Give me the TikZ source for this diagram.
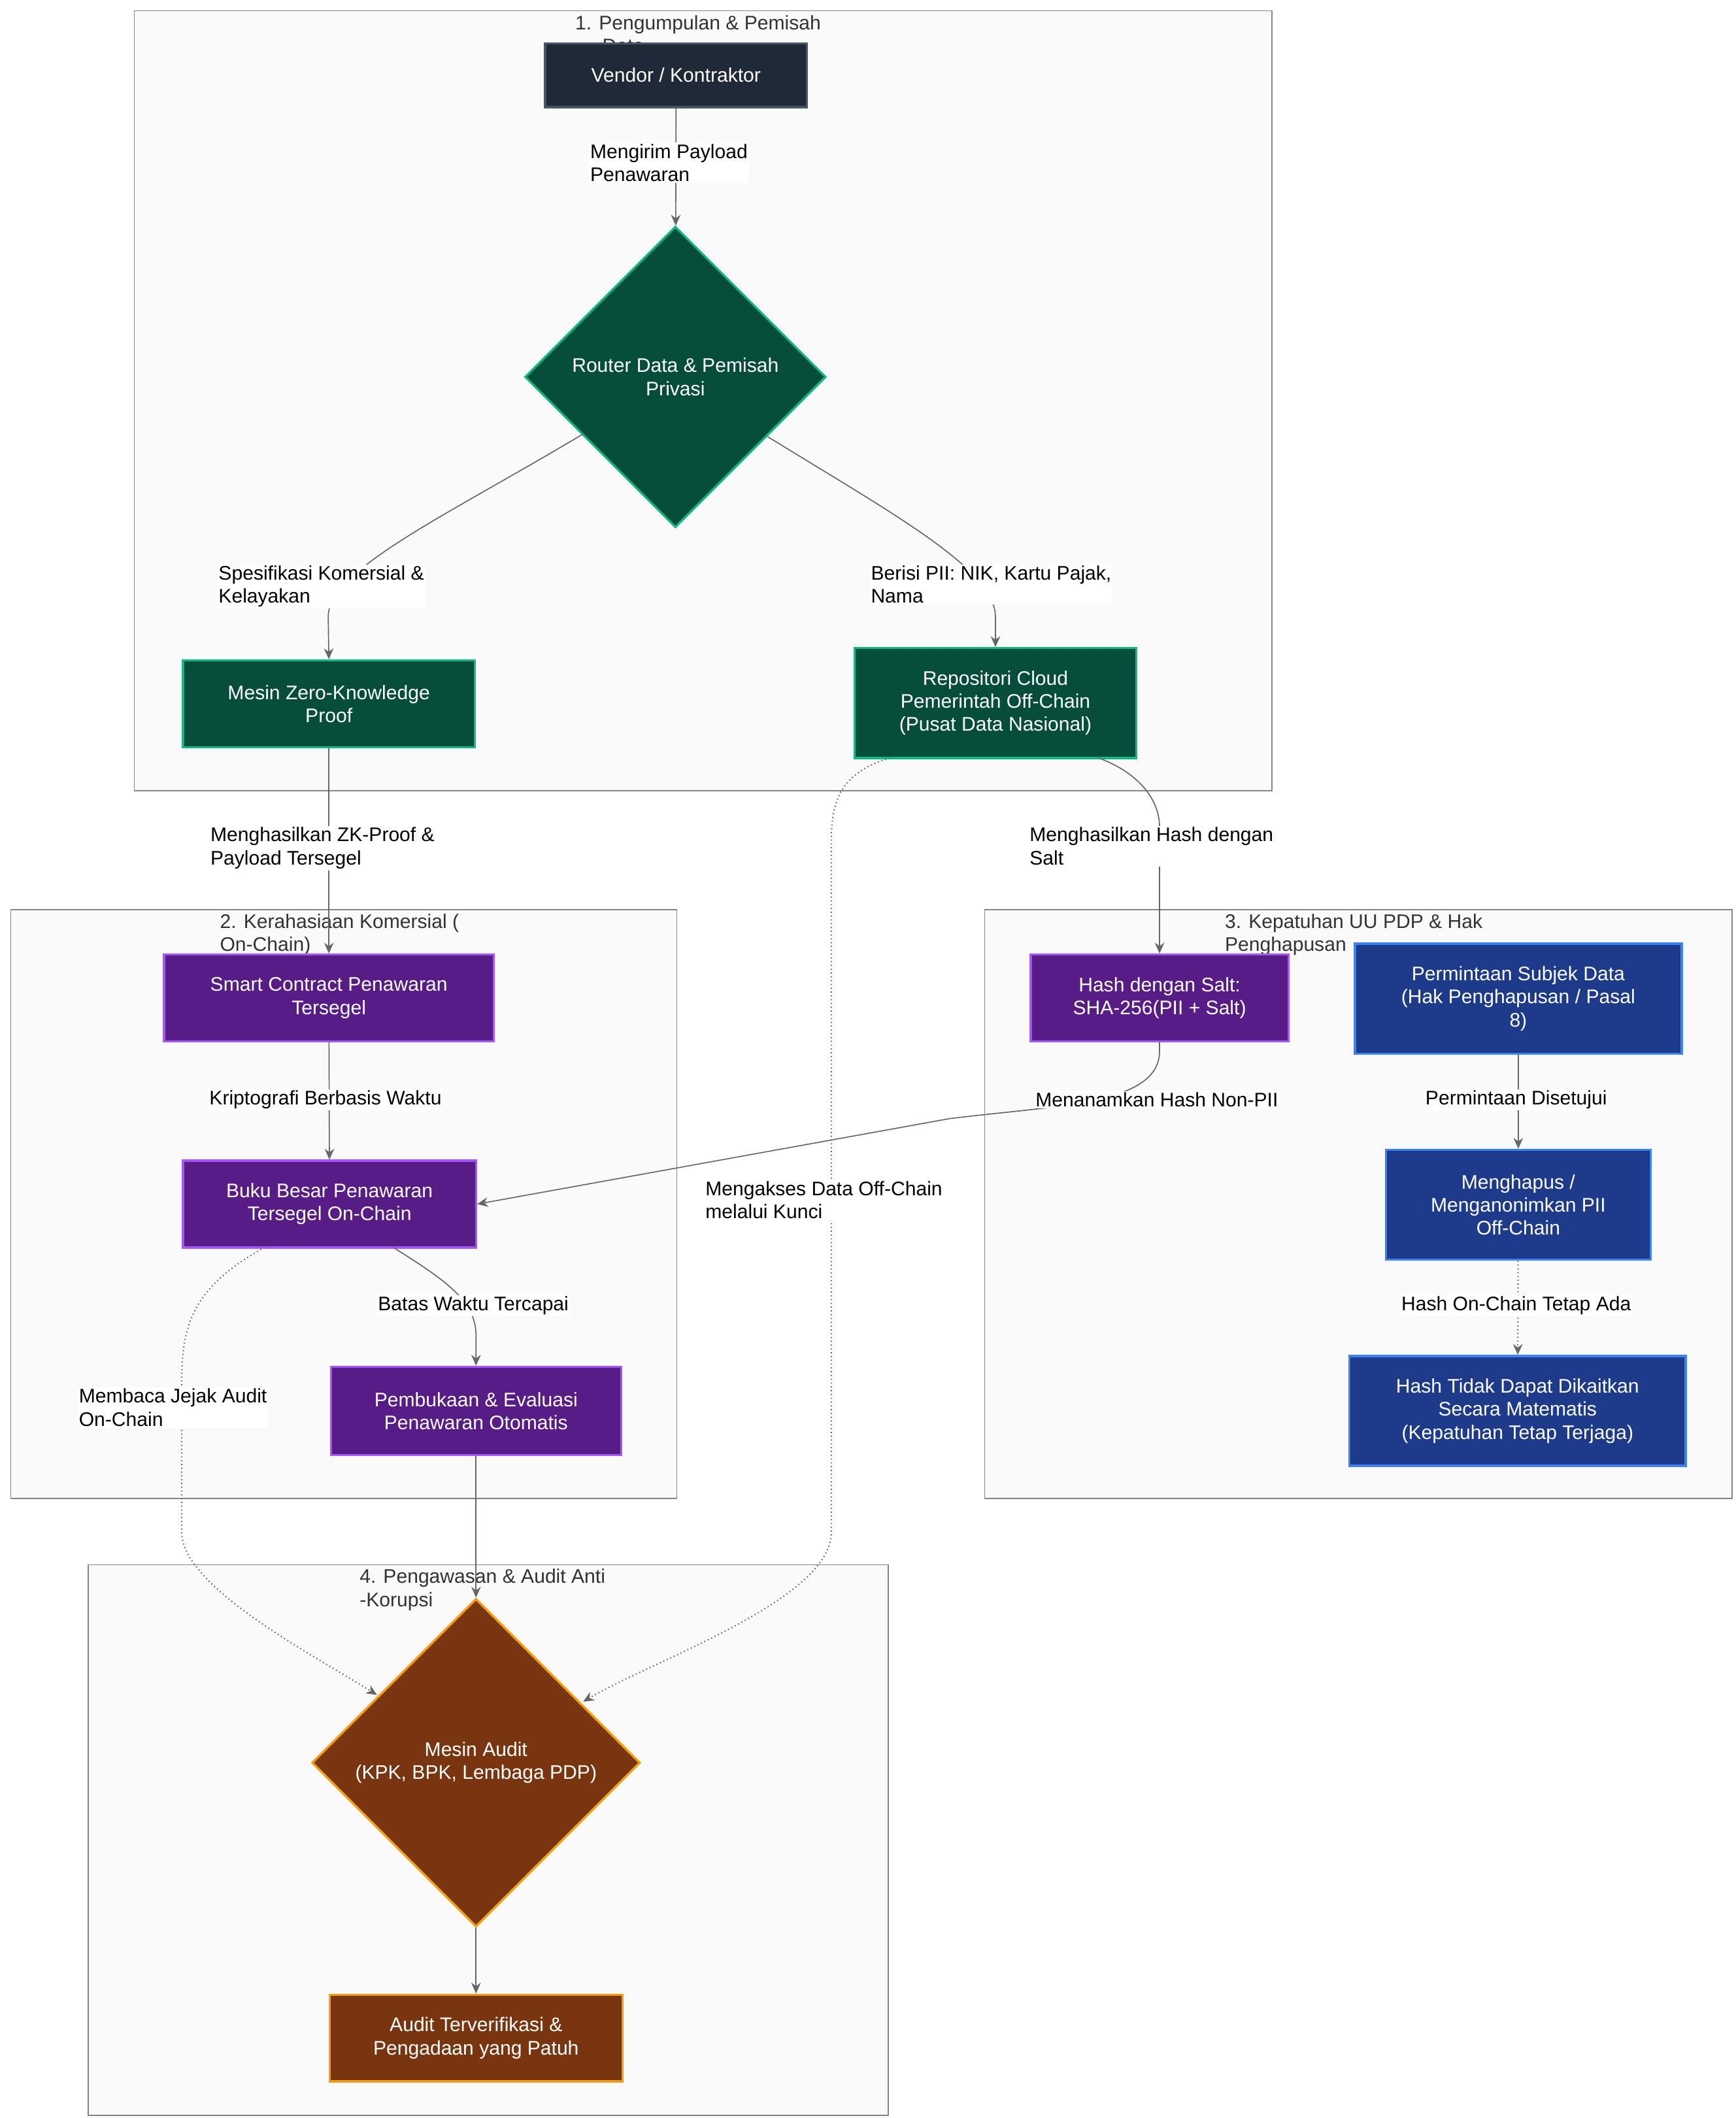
\documentclass[tikz,border=0pt]{standalone}
\usepackage{fontspec}
\setmainfont{Liberation Sans}
\usetikzlibrary{shapes.geometric,arrows.meta,positioning}
\definecolor{vendorfill}{HTML}{1F2937}
\definecolor{vendorline}{HTML}{4B5563}
\definecolor{greenfill}{HTML}{064E3B}
\definecolor{greenline}{HTML}{10B981}
\definecolor{purplefill}{HTML}{581C87}
\definecolor{purpleline}{HTML}{A855F7}
\definecolor{bluefill}{HTML}{1E3A8A}
\definecolor{blueline}{HTML}{3B82F6}
\definecolor{brownfill}{HTML}{78350F}
\definecolor{brownline}{HTML}{F59E0B}
\definecolor{edgegray}{HTML}{666666}
\definecolor{clusterfill}{HTML}{FAFAFA}
\begin{document}
\begin{tikzpicture}[x=1pt,y=-1pt,
  every node/.style={font=\fontsize{14.5}{17}\selectfont},
  box/.style={draw,line width=1.6pt,text=white,align=center,inner sep=2pt},
  vendor/.style={box,fill=vendorfill,draw=vendorline},
  green/.style={box,fill=greenfill,draw=greenline},
  purple/.style={box,fill=purplefill,draw=purpleline},
  blue/.style={box,fill=bluefill,draw=blueline},
  brown/.style={box,fill=brownfill,draw=brownline},
  decision/.style={diamond,aspect=1,inner sep=0pt},
  cluster/.style={draw=edgegray!80,fill=clusterfill,line width=0.8pt},
  title/.style={align=left,anchor=north west,text=black!80,inner sep=0pt},
  lbl/.style={align=left,anchor=north west,fill=white,inner sep=1pt},
  clbl/.style={align=center,fill=white,inner sep=1pt},
  flow/.style={draw=edgegray,line width=0.8pt,-{Stealth[length=8pt,width=7pt]}},
  weak/.style={flow,dotted,line width=1pt}]
\useasboundingbox (0,0) rectangle (1280,1562);

% clusters
\draw[cluster] (99,8) rectangle (938,583);
\draw[cluster] (8,671) rectangle (499,1105);
\draw[cluster] (726,671) rectangle (1277,1105);
\draw[cluster] (65,1154) rectangle (655,1560);
\node[title] (t1) at (424,11) {1. Pengumpulan \& Pemisah\\\hspace*{20pt}Data};
\node[title] (t2) at (162,674) {2. Kerahasiaan Komersial (\\On-Chain)};
\node[title] (t3) at (903,674) {3. Kepatuhan UU PDP \& Hak\\Penghapusan};
\node[title] (t4) at (265,1157) {4. Pengawasan \& Audit Anti\\-Korupsi};

% 1. collection
\node[vendor,minimum width=193pt,minimum height=47pt] (Vendor) at (498.5,55.5) {Vendor / Kontraktor};
\node[green,decision,minimum width=222pt,minimum height=222pt] (Router) at (498,278) {Router Data \& Pemisah\\Privasi};
\node[green,minimum width=215pt,minimum height=64pt] (ZkProof) at (242.5,519) {Mesin Zero-Knowledge\\Proof};
\node[green,minimum width=208pt,minimum height=81pt] (CloudRepo) at (734,518.5) {Repositori Cloud\\Pemerintah Off-Chain\\(Pusat Data Nasional)};

% 2. confidentiality
\node[purple,minimum width=243pt,minimum height=64pt] (SealedContract) at (242.5,736) {Smart Contract Penawaran\\Tersegel};
\node[purple,minimum width=216pt,minimum height=64pt] (SealedLedger) at (243,888) {Buku Besar Penawaran\\Tersegel On-Chain};
\node[purple,minimum width=214pt,minimum height=65pt] (AutoOpen) at (351,1040.5) {Pembukaan \& Evaluasi\\Penawaran Otomatis};

% 3. compliance
\node[purple,minimum width=190pt,minimum height=64pt] (SaltHash) at (855,736) {Hash dengan Salt:\\SHA-256(PII + Salt)};
\node[blue,minimum width=241pt,minimum height=81pt] (ErasureReq) at (1119.5,736.5) {Permintaan Subjek Data\\(Hak Penghapusan / Pasal\\8)};
\node[blue,minimum width=195pt,minimum height=81pt] (Anonymise) at (1119.5,888.5) {Menghapus /\\Menganonimkan PII\\Off-Chain};
\node[blue,minimum width=248pt,minimum height=81pt] (Unlinkable) at (1119,1040.5) {Hash Tidak Dapat Dikaitkan\\Secara Matematis\\(Kepatuhan Tetap Terjaga)};

% 4. oversight
\node[brown,decision,minimum width=242pt,minimum height=242pt] (AuditEngine) at (351,1300) {Mesin Audit\\(KPK, BPK, Lembaga PDP)};
\node[brown,minimum width=216pt,minimum height=64pt] (AuditDone) at (351,1503) {Audit Terverifikasi \&\\Pengadaan yang Patuh};

% connectors
\draw[flow] (Vendor) -- (Router);
\draw[flow] (Router.south west) ++(0,0) coordinate (rl) (430,320) .. controls (330,380) and (242,420) .. (242,455) -- (ZkProof.north);
\draw[flow] (566,322) .. controls (660,380) and (734,420) .. (734,455) -- (CloudRepo.north);
\draw[flow] (ZkProof) -- (SealedContract);
\draw[flow] (810,559) .. controls (840,570) and (855,590) .. (855,610) -- (SaltHash.north);
\draw[flow] (SealedContract) -- (SealedLedger);
\draw[flow] (SaltHash.south) -- (855,775) .. controls (855,815) and (780,815) .. (700,825) -- (SealedLedger.east);
\draw[flow] (290,920) .. controls (330,945) and (351,960) .. (351,985) -- (AutoOpen.north);
\draw[flow] (AutoOpen) -- (AuditEngine.north);
\draw[weak] (195,920) .. controls (140,950) and (134,980) .. (134,1020) -- (134,1130) .. controls (134,1170) and (230,1220) .. (278,1250);
\draw[weak] (656,559) .. controls (620,570) and (613,590) .. (613,620) -- (613,1130) .. controls (613,1180) and (480,1225) .. (430,1255);
\draw[flow] (AuditEngine) -- (AuditDone);
\draw[flow] (ErasureReq) -- (Anonymise);
\draw[weak] (Anonymise) -- (Unlinkable);

% connector labels
\node[lbl] (l1) at (434,105) {Mengirim Payload\\Penawaran};
\node[lbl] (l2) at (160,416) {Spesifikasi Komersial \&\\Kelayakan};
\node[lbl] (l3) at (641,416) {Berisi PII: NIK, Kartu Pajak,\\Nama};
\node[lbl] (l4) at (154,609) {Menghasilkan ZK-Proof \&\\Payload Tersegel};
\node[lbl] (l5) at (758,609) {Menghasilkan Hash dengan\\Salt};
\node[clbl] (l6) at (240,811) {Kriptografi Berbasis Waktu};
\node[clbl] (l7) at (853,811) {Menanamkan Hash Non-PII};
\node[clbl] (l8) at (1118,811) {Permintaan Disetujui};
\node[lbl] (l9) at (519,870) {Mengakses Data Off-Chain\\melalui Kunci};
\node[clbl] (l10) at (349,963) {Batas Waktu Tercapai};
\node[clbl] (l11) at (1118,963) {Hash On-Chain Tetap Ada};
\node[lbl] (l12) at (57,1023) {Membaca Jejak Audit\\On-Chain};
\end{tikzpicture}
\end{document}
